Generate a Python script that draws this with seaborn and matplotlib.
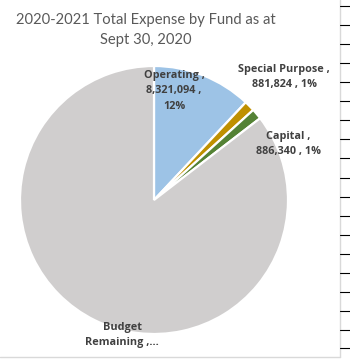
import matplotlib
matplotlib.use("Agg")
import matplotlib.pyplot as plt
from matplotlib.lines import Line2D
import seaborn as sns

# Fund totals (2020-2021, as at Sept 30, 2020)
funds = ["Operating", "Special Purpose", "Capital", "Budget Remaining"]
amounts = [8321094, 881824, 886340, 59250000]
pct_labels = ["12%", "1%", "1%", "86%"]
colors = ["#9DC3E6", "#BF9000", "#548235", "#D0CECE"]

sns.set_theme(style="white")
plt.rcParams["font.family"] = ["Lato", "DejaVu Sans"]

W, H = 350, 360
fig = plt.figure(figsize=(W / 100, H / 100), dpi=100)
fig.patch.set_facecolor("white")

# pie axes: centre (154, 200) px, radius 134 px
cx, cy, r = 154, 200, 134
ax = fig.add_axes([(cx - r) / W, (H - cy - r) / H, 2 * r / W, 2 * r / H])
ax.pie(amounts, colors=colors, startangle=90, counterclock=False,
       wedgeprops=dict(edgecolor="white", linewidth=1.6))
ax.set_xlim(-1, 1)
ax.set_ylim(-1, 1)
ax.set_aspect("auto")
ax.axis("off")

def px(x, y):
    return (x - cx) / r, (cy - y) / r

lab_color = "#404040"
label_text = [
    f"{funds[0]} ,\n{amounts[0]:,} ,\n{pct_labels[0]}",
    f"{funds[1]} ,\n{amounts[1]:,} , {pct_labels[1]}",
    f"{funds[2]} ,\n{amounts[2]:,} , {pct_labels[2]}",
    "Budget\nRemaining ,...",
]
label_pos = [(174, 91), (284, 77), (288, 144), (122, 335)]
for txt, (x, y) in zip(label_text, label_pos):
    dx, dy = px(x, y)
    ax.text(dx, dy, txt, ha="center", va="center", fontsize=7.8,
            fontweight="bold", color=lab_color, linespacing=1.55,
            family=["Open Sans", "DejaVu Sans"], clip_on=False)

fig.text(146 / W, 1 - 30 / H, "2020-2021 Total Expense by Fund as at\nSept 30, 2020",
         ha="center", va="center", fontsize=10.6, color="#595959",
         linespacing=1.6)

# chart frame and surrounding sheet grid
fig.add_artist(Line2D([339.5 / W, 339.5 / W], [1 - 357 / H, 1], color="#D9D9D9", lw=1))
fig.add_artist(Line2D([0, 339.5 / W], [1 - 357 / H, 1 - 357 / H], color="#D9D9D9", lw=1))
for y in [6, 25, 44, 63, 82, 101, 120, 139, 158, 178, 197, 216, 235, 254, 273,
          292, 311, 330, 348]:
    fig.add_artist(Line2D([340 / W, 1], [1 - y / H, 1 - y / H], color="black", lw=0.8))

fig.savefig("out.png", dpi=100, facecolor="white")
